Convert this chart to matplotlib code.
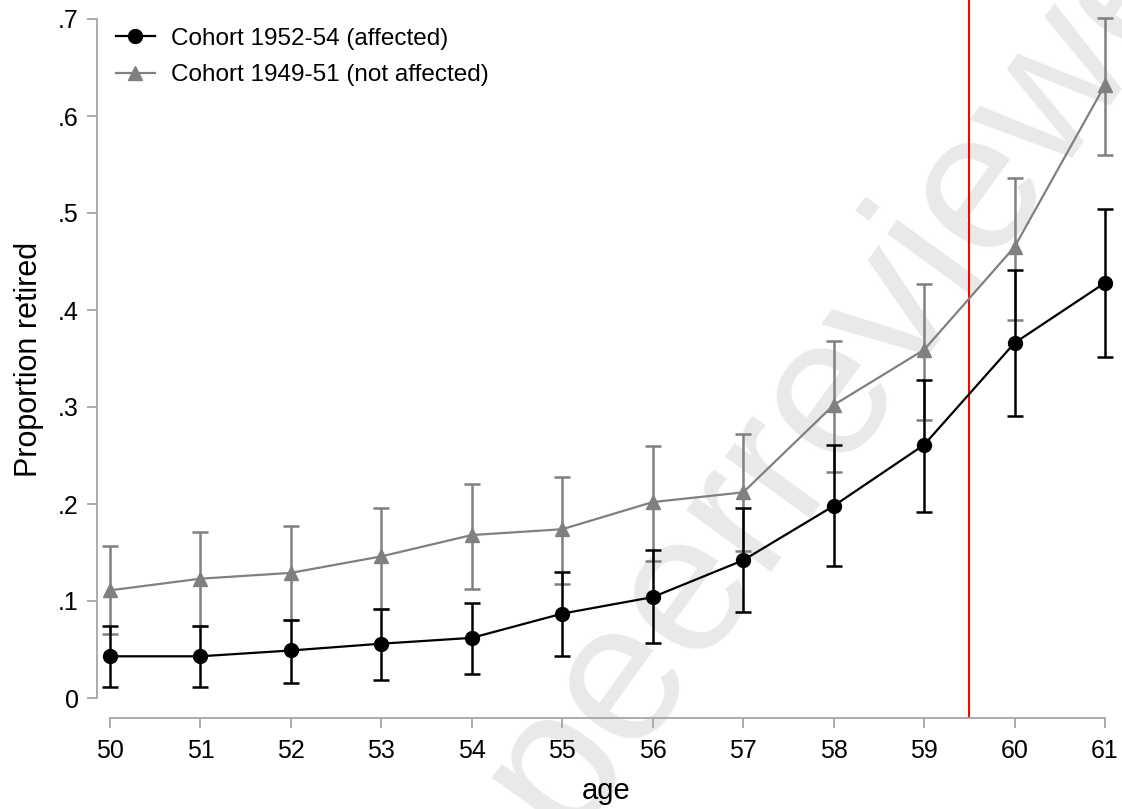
import numpy as np
import matplotlib
matplotlib.use("Agg")
import matplotlib.pyplot as plt

plt.rcParams['font.family'] = ['Liberation Sans', 'DejaVu Sans']

# proportion retired by age, with confidence bounds
ages = [50, 51, 52, 53, 54, 55, 56, 57, 58, 59, 60, 61]

affected = [0.043, 0.043, 0.049, 0.056, 0.062, 0.087, 0.104, 0.142, 0.198, 0.261, 0.366, 0.428]
affected_lo = [0.011, 0.011, 0.015, 0.019, 0.025, 0.043, 0.057, 0.089, 0.136, 0.192, 0.291, 0.352]
affected_hi = [0.074, 0.074, 0.080, 0.092, 0.098, 0.130, 0.153, 0.196, 0.261, 0.328, 0.441, 0.504]

unaffected = [0.111, 0.123, 0.129, 0.146, 0.168, 0.174, 0.202, 0.212, 0.302, 0.359, 0.465, 0.632]
unaffected_lo = [0.066, 0.074, 0.080, 0.092, 0.112, 0.118, 0.141, 0.152, 0.233, 0.287, 0.390, 0.560]
unaffected_hi = [0.157, 0.171, 0.177, 0.196, 0.221, 0.228, 0.260, 0.272, 0.368, 0.427, 0.536, 0.701]

yticks = [0, 0.1, 0.2, 0.3, 0.4, 0.5, 0.6, 0.7]
ytick_labels = ['0', '.1', '.2', '.3', '.4', '.5', '.6', '.7']

cutoff = 59.5
axis_gray = '#a6a6a6'
gray = '#808080'

fig = plt.figure(figsize=(11.22, 8.09), dpi=100)
ax = fig.add_axes([97 / 1122, 91 / 809, 1018 / 1122, 718 / 809])
ax.patch.set_alpha(0)

# faint diagonal stamp behind the plot
fig.text(0.778, 0.595, 'peerreviewed', fontsize=143, color='#e9e9e9',
         rotation=54, ha='center', va='center', rotation_mode='anchor', zorder=-5)

x = np.array(ages)
aff = np.array(affected)
una = np.array(unaffected)

ax.errorbar(x, una, yerr=[una - np.array(unaffected_lo), np.array(unaffected_hi) - una],
            fmt='none', ecolor=gray, elinewidth=1.8, capsize=5.5, capthick=1.8, clip_on=False, zorder=2)
ax.errorbar(x, aff, yerr=[aff - np.array(affected_lo), np.array(affected_hi) - aff],
            fmt='none', ecolor='black', elinewidth=1.8, capsize=5.5, capthick=1.8, clip_on=False, zorder=3)
ax.plot(x, aff, color='black', marker='o', markersize=10, linewidth=1.6,
        label='Cohort 1952-54 (affected)', clip_on=False, zorder=5)
ax.plot(x, una, color=gray, marker='^', markersize=10, linewidth=1.6,
        label='Cohort 1949-51 (not affected)', clip_on=False, zorder=4)

ax.axvline(cutoff, color='red', linewidth=1.5, zorder=1)

ax.set_xlim(50 - 13 / 90.45, 61 + 10 / 90.45)
ax.set_ylim(-20 / 970, 0.7 + 19 / 970)

for side in ['top', 'right']:
    ax.spines[side].set_visible(False)
for side in ['left', 'bottom']:
    ax.spines[side].set_color(axis_gray)
    ax.spines[side].set_linewidth(1.3)
ax.spines['left'].set_bounds(0, 0.7)
ax.spines['bottom'].set_bounds(50, 61)

ax.set_xticks(ages)
ax.set_yticks(yticks)
ax.set_yticklabels(ytick_labels)
ax.tick_params(axis='both', colors=axis_gray, labelcolor='black', labelsize=18,
               length=7, width=1.3, direction='out')
ax.tick_params(axis='y', pad=6)
ax.tick_params(axis='x', pad=8)

ax.set_xlabel('age', fontsize=21, labelpad=10)
ax.set_ylabel('Proportion retired', fontsize=22, labelpad=10)

ax.legend(loc='upper left', bbox_to_anchor=(0.002, 0.985), frameon=False, fontsize=17.5,
          handlelength=1.6, handletextpad=0.65, labelspacing=0.6, borderaxespad=0.3)

fig.savefig('out.png', dpi=100)
